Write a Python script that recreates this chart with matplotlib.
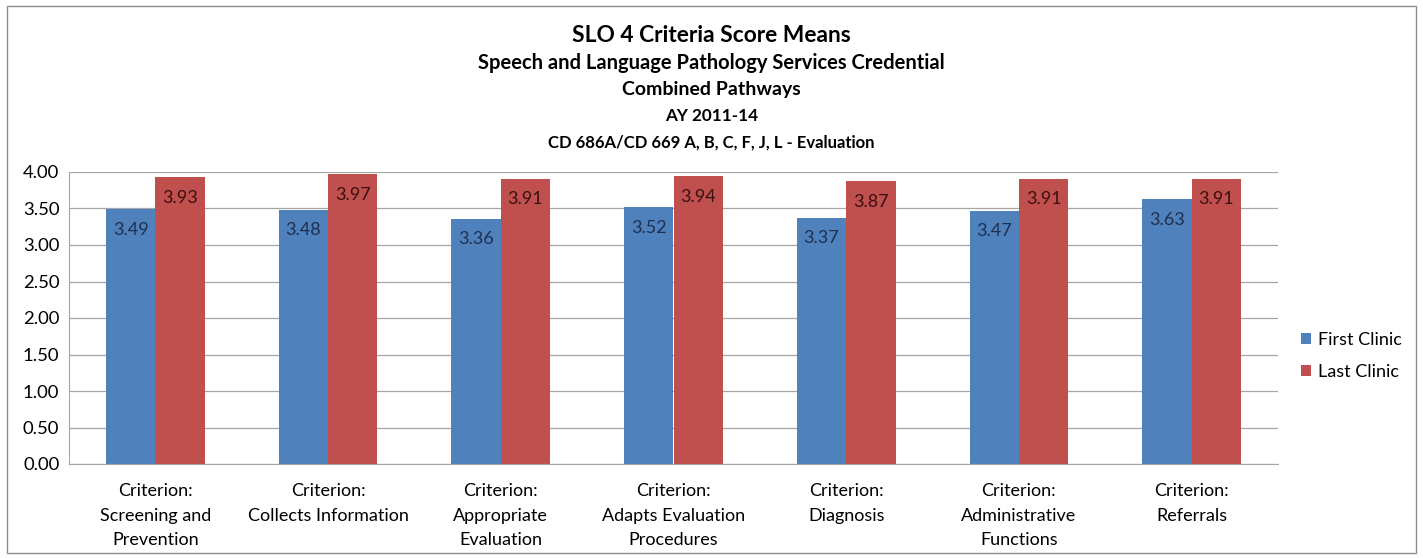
import numpy as np
import matplotlib
matplotlib.use("Agg")
from matplotlib import pyplot as plt
from matplotlib.patches import Rectangle

plt.rcParams['font.family'] = ['Lato', 'DejaVu Sans']

# Criterion means per clinic
categories = ["Criterion:\nScreening and\nPrevention",
              "Criterion:\nCollects Information",
              "Criterion:\nAppropriate\nEvaluation",
              "Criterion:\nAdapts Evaluation\nProcedures",
              "Criterion:\nDiagnosis",
              "Criterion:\nAdministrative\nFunctions",
              "Criterion:\nReferrals"]
first_clinic = [3.49, 3.48, 3.36, 3.52, 3.37, 3.47, 3.63]
last_clinic = [3.93, 3.97, 3.91, 3.94, 3.87, 3.91, 3.91]
yticks = np.arange(0, 4.01, 0.5)

blue = '#4F81BD'
red = '#C0504D'

fig = plt.figure(figsize=(14.23, 5.58), dpi=100)

# outer chart border
fig.patches.append(Rectangle((7 / 1423, 5 / 558), 1409 / 1423, 547 / 558,
                             transform=fig.transFigure, fill=False,
                             edgecolor='#8c8c8c', linewidth=1.0))

ax = fig.add_axes([69 / 1423, 1 - 464 / 558, (1278 - 69) / 1423, (464 - 172) / 558])

x = np.arange(len(categories))
w = 1 / 3.5
b1 = ax.bar(x - w / 2, first_clinic, w, color=blue, label='First Clinic')
b2 = ax.bar(x + w / 2, last_clinic, w, color=red, label='Last Clinic')

for bars, vals, col in [(b1, first_clinic, '#1f2f4f'), (b2, last_clinic, '#3a1010')]:
    for r, v in zip(bars, vals):
        ax.annotate("%.2f" % v, (r.get_x() + r.get_width() / 2, v),
                    xytext=(0, -9), textcoords='offset points',
                    ha='center', va='top', fontsize=13, color=col)

ax.set_xlim(-0.5, len(categories) - 0.5)
ax.set_ylim(0, 4.0)
ax.set_yticks(yticks)
ax.set_yticklabels(["%.2f" % t for t in yticks], fontsize=13.3)
ax.set_xticks(x)
ax.set_xticklabels(categories, fontsize=13, linespacing=1.62)
ax.tick_params(axis='both', length=0)
ax.tick_params(axis='y', pad=7)
ax.tick_params(axis='x', pad=14)
ax.yaxis.grid(True, color='#a6a6a6', linewidth=0.9)
ax.set_axisbelow(True)
for s in ['top', 'right']:
    ax.spines[s].set_visible(False)
ax.spines['left'].set_color('#a6a6a6')
ax.spines['bottom'].set_color('#a6a6a6')

leg = fig.legend(handles=[b1, b2], loc='center left',
                 bbox_to_anchor=(1285 / 1423, 1 - 356 / 558), frameon=False,
                 fontsize=13, handlelength=0.55, handleheight=0.55,
                 handletextpad=0.35, labelspacing=0.85)

# title block
titles = [("SLO 4 Criteria Score Means", 16.4, 35),
          ("Speech and Language Pathology Services Credential", 14.5, 63),
          ("Combined Pathways", 14, 89),
          ("AY 2011-14", 12.3, 116),
          ("CD 686A/CD 669 A, B, C, F, J, L - Evaluation", 12, 143)]
for text, size, ypix in titles:
    fig.text(0.5, 1 - ypix / 558, text, ha='center', va='center',
             fontsize=size, fontweight='bold')

fig.savefig("out.png", dpi=100)
